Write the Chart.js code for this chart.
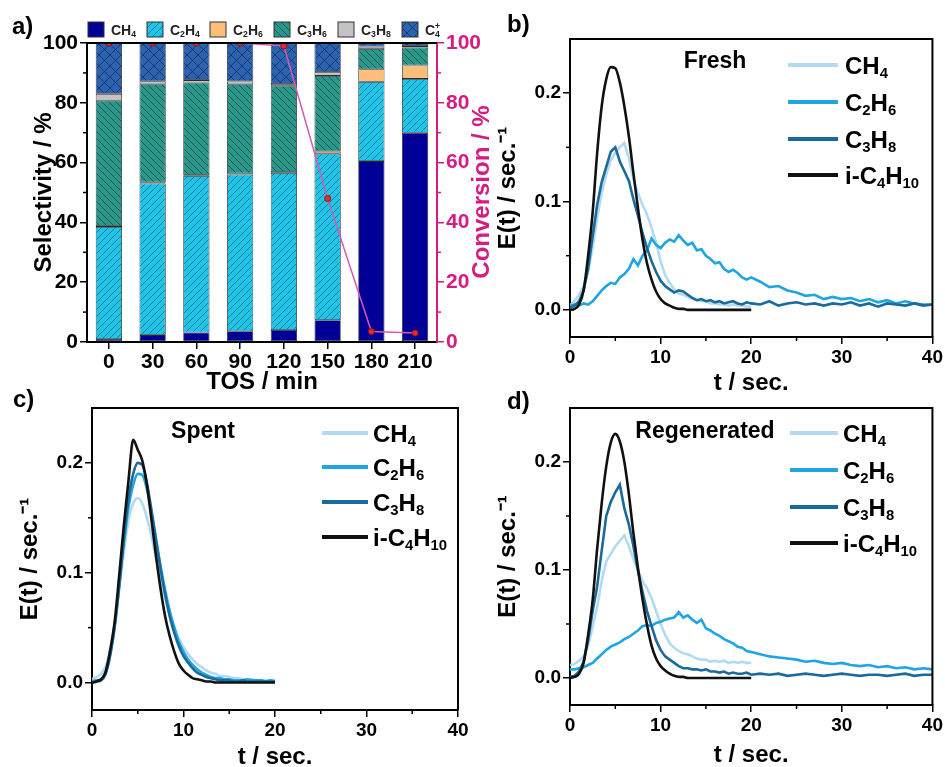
<!DOCTYPE html>
<html>
<head>
<meta charset="utf-8">
<script src="https://cdn.jsdelivr.net/npm/chart.js@4.4.1/dist/chart.umd.min.js"></script>
<style>
    body { margin: 0; background: #fff; width: 945px; height: 767px; overflow: hidden; position: relative; }
    canvas { position: absolute; }
    #cvA { left: 0; top: 0; }
    #cvB { left: 480px; top: 0; }
    #cvC { left: 0; top: 385px; }
    #cvD { left: 480px; top: 385px; }
</style>
</head>
<body>
<canvas id="cvA" width="500" height="400"></canvas>
<canvas id="cvB" width="465" height="400"></canvas>
<canvas id="cvC" width="480" height="390"></canvas>
<canvas id="cvD" width="465" height="390"></canvas>
<script>
// ---- panel a: selectivity (stacked) + conversion ----
const tosLabels = ['0', '30', '60', '90', '120', '150', '180', '210'];
const selCH4  = [1.0, 2.3, 3.2, 3.6, 4.0, 7.3, 60.5, 70.0];
const selC2H4 = [37.5, 50.7, 52.3, 52.4, 52.5, 55.7, 26.5, 18.0];
const selC2H6 = [0.3, 0.3, 0.3, 0.3, 0.3, 0.7, 4.2, 4.5];
const selC3H6 = [41.9, 32.9, 31.0, 29.9, 28.9, 25.3, 6.8, 6.0];
const selC3H8 = [2.3, 1.0, 0.8, 0.9, 0.6, 1.3, 0.8, 0.5];
const selC4   = [17.0, 12.8, 12.4, 12.9, 13.7, 9.7, 1.2, 1.0];
const conversion = [100, 100, 100, 100, 99, 48, 3.5, 3];

// ---- panels b-d: residence time distributions ----
const tShort = [0, 0.5, 1, 1.5, 2, 2.5, 3, 3.5, 4, 4.5,
    5, 5.5, 6, 6.5, 7, 7.5, 8, 8.5, 9, 9.5,
    10, 10.5, 11, 11.5, 12, 12.5, 13, 13.5, 14, 14.5,
    15, 15.5, 16, 16.5, 17, 17.5, 18, 18.5, 19, 19.5,
    20];
const tLong = tShort.concat([21, 22, 23, 24, 25, 26, 27, 28, 29, 30,
    31, 32, 33, 34, 35, 36, 37, 38, 39, 40]);

// Fresh
const freshCH4 = [0.004, 0.008, 0.014, 0.022, 0.035, 0.058, 0.085, 0.108, 0.125, 0.138,
    0.145, 0.150, 0.154, 0.140, 0.120, 0.108, 0.097, 0.088, 0.076, 0.062,
    0.045, 0.032, 0.025, 0.019, 0.015, 0.014, 0.012, 0.010, 0.009, 0.008,
    0.008, 0.006, 0.006, 0.005, 0.005, 0.004, 0.005, 0.004, 0.004, 0.003,
    0.003];
const freshC2H6 = [0.004, 0.005, 0.004, 0.006, 0.005, 0.008, 0.013, 0.018, 0.022, 0.025,
    0.024, 0.030, 0.033, 0.038, 0.047, 0.041, 0.050, 0.055, 0.066, 0.060,
    0.057, 0.062, 0.065, 0.063, 0.069, 0.064, 0.060, 0.062, 0.055, 0.056,
    0.050, 0.047, 0.043, 0.044, 0.038, 0.035, 0.037, 0.034, 0.030, 0.028,
    0.030,
    0.026, 0.021, 0.022, 0.018, 0.016, 0.013, 0.014, 0.010, 0.012, 0.010,
    0.011, 0.008, 0.010, 0.007, 0.009, 0.006, 0.008, 0.006, 0.005, 0.005];
const freshC3H8 = [0.002, 0.004, 0.008, 0.018, 0.038, 0.068, 0.097, 0.118, 0.132, 0.146,
    0.150, 0.137, 0.128, 0.119, 0.102, 0.087, 0.071, 0.057, 0.045, 0.035,
    0.027, 0.022, 0.019, 0.016, 0.018, 0.017, 0.014, 0.011, 0.009, 0.010,
    0.008, 0.009, 0.007, 0.008, 0.006, 0.007, 0.008, 0.006, 0.005, 0.007,
    0.006,
    0.005, 0.008, 0.004, 0.006, 0.007, 0.005, 0.006, 0.004, 0.006, 0.005,
    0.007, 0.004, 0.006, 0.003, 0.006, 0.005, 0.004, 0.006, 0.004, 0.005];
const freshC4H10 = [0, 0.001, 0.005, 0.018, 0.050, 0.090, 0.145, 0.188, 0.213, 0.224,
    0.223, 0.210, 0.188, 0.160, 0.126, 0.094, 0.065, 0.043, 0.028, 0.017,
    0.010, 0.006, 0.004, 0.002, 0.001, 0.001, 0, 0, 0, 0,
    0, 0, 0, 0, 0, 0, 0, 0, 0, 0,
    0];

// Spent
const spentCH4 = [0.003, 0.005, 0.008, 0.015, 0.030, 0.054, 0.087, 0.120, 0.148, 0.163,
    0.168, 0.163, 0.150, 0.133, 0.113, 0.094, 0.077, 0.062, 0.050, 0.040,
    0.032, 0.026, 0.021, 0.017, 0.014, 0.011, 0.009, 0.008, 0.006, 0.006,
    0.005, 0.004, 0.004, 0.003, 0.003, 0.003, 0.002, 0.002, 0.002, 0.002,
    0.002];
const spentC2H6 = [0.001, 0.002, 0.003, 0.010, 0.027, 0.053, 0.090, 0.128, 0.160, 0.180,
    0.190, 0.189, 0.176, 0.155, 0.130, 0.106, 0.084, 0.065, 0.050, 0.037,
    0.028, 0.021, 0.016, 0.012, 0.009, 0.007, 0.005, 0.004, 0.004, 0.003,
    0.003, 0.002, 0.002, 0.002, 0.003, 0.002, 0.002, 0.002, 0.001, 0.002,
    0.001];
const spentC3H8 = [0, 0.001, 0.002, 0.008, 0.025, 0.052, 0.090, 0.132, 0.168, 0.190,
    0.200, 0.198, 0.182, 0.157, 0.130, 0.103, 0.080, 0.060, 0.045, 0.033,
    0.024, 0.018, 0.013, 0.009, 0.007, 0.005, 0.004, 0.003, 0.002, 0.002,
    0.002, 0.001, 0.001, 0.002, 0.001, 0.001, 0.001, 0.001, 0.001, 0.001,
    0.001];
const spentC4H10 = [0, 0.001, 0.003, 0.010, 0.030, 0.057, 0.100, 0.145, 0.185, 0.221,
    0.212, 0.202, 0.180, 0.148, 0.115, 0.085, 0.060, 0.042, 0.028, 0.017,
    0.011, 0.007, 0.004, 0.003, 0.002, 0.001, 0.001, 0, 0, 0,
    0, 0, 0, 0, 0, 0, 0, 0, 0, 0,
    0];

// Regenerated
const regenCH4 = [0.012, 0.013, 0.016, 0.020, 0.030, 0.047, 0.066, 0.090, 0.108, 0.115,
    0.122, 0.127, 0.132, 0.122, 0.110, 0.100, 0.090, 0.083, 0.074, 0.062,
    0.050, 0.040, 0.032, 0.028, 0.025, 0.023, 0.022, 0.020, 0.018, 0.017,
    0.017, 0.015, 0.016, 0.015, 0.016, 0.014, 0.015, 0.014, 0.015, 0.014,
    0.014];
const regenC2H6 = [0.008, 0.008, 0.009, 0.010, 0.012, 0.014, 0.018, 0.022, 0.026, 0.029,
    0.031, 0.033, 0.036, 0.038, 0.041, 0.044, 0.048, 0.049, 0.048, 0.051,
    0.052, 0.054, 0.055, 0.056, 0.061, 0.056, 0.058, 0.054, 0.051, 0.054,
    0.046, 0.044, 0.041, 0.039, 0.036, 0.034, 0.032, 0.029, 0.028, 0.025,
    0.024,
    0.022, 0.020, 0.019, 0.018, 0.017, 0.015, 0.016, 0.014, 0.013, 0.014,
    0.012, 0.011, 0.012, 0.010, 0.011, 0.009, 0.010, 0.008, 0.009, 0.008];
const regenC3H8 = [0.001, 0.002, 0.006, 0.015, 0.035, 0.062, 0.085, 0.118, 0.150, 0.163,
    0.172, 0.179, 0.157, 0.142, 0.122, 0.099, 0.080, 0.062, 0.048, 0.035,
    0.026, 0.020, 0.017, 0.014, 0.011, 0.009, 0.009, 0.008, 0.008, 0.007,
    0.008, 0.006, 0.006, 0.005, 0.006, 0.004, 0.005, 0.004, 0.004, 0.005,
    0.003,
    0.004, 0.003, 0.004, 0.002, 0.003, 0.004, 0.003, 0.002, 0.003, 0.004,
    0.003, 0.002, 0.003, 0.003, 0.002, 0.003, 0.004, 0.002, 0.003, 0.003];
const regenC4H10 = [0, 0.001, 0.004, 0.014, 0.040, 0.072, 0.120, 0.162, 0.196, 0.218,
    0.226, 0.219, 0.200, 0.170, 0.134, 0.102, 0.073, 0.049, 0.030, 0.018,
    0.011, 0.007, 0.004, 0.002, 0.001, 0.001, 0, 0, 0, 0,
    0, 0, 0, 0, 0, 0, 0, 0, 0, 0,
    0];

const FONT = "'Liberation Sans', Arial, sans-serif";
const PINK = '#d81b80';
Chart.defaults.font.family = FONT;
Chart.defaults.font.weight = 'bold';
Chart.defaults.color = '#000';
Chart.defaults.animation = false;

// hatch fill for the bars
function hatch(bg, fg, dirs, size) {
    const c = document.createElement('canvas');
    c.width = c.height = size;
    const g = c.getContext('2d');
    g.fillStyle = bg;
    g.fillRect(0, 0, size, size);
    g.strokeStyle = fg;
    g.lineWidth = 0.9;
    g.beginPath();
    if (dirs.includes('/')) {
        g.moveTo(-1, size + 1); g.lineTo(size + 1, -1);
        g.moveTo(-2, 2); g.lineTo(2, -2);
        g.moveTo(size - 2, size + 2); g.lineTo(size + 2, size - 2);
    }
    if (dirs.includes('\\')) {
        g.moveTo(-1, -1); g.lineTo(size + 1, size + 1);
        g.moveTo(size - 2, -2); g.lineTo(size + 2, 2);
        g.moveTo(-2, size - 2); g.lineTo(2, size + 2);
    }
    g.stroke();
    return g.createPattern(c, 'repeat');
}

// text with _sub and ^sup (e.g. C_2H_6, C_4^+)
function chemRuns(str) {
    const runs = [];
    let i = 0;
    while (i < str.length) {
        const c = str[i];
        if (c === '_' || c === '^') {
            let t;
            if (str[i + 1] === '{') {
                const j = str.indexOf('}', i);
                t = str.slice(i + 2, j);
                i = j + 1;
            } else {
                t = str[i + 1];
                i += 2;
            }
            runs.push({ t, k: c === '_' ? 'sub' : 'sup' });
        } else {
            let j = i;
            while (j < str.length && str[j] !== '_' && str[j] !== '^') j++;
            runs.push({ t: str.slice(i, j), k: 'n' });
            i = j;
        }
    }
    return runs;
}

function drawChem(ctx, str, x, y, size) {
    let cx = x, subX = null;
    chemRuns(str).forEach(r => {
        const s = r.k === 'n' ? size : size * 0.62;
        ctx.font = `bold ${s}px ${FONT}`;
        const w = ctx.measureText(r.t).width;
        if (r.k === 'n') {
            ctx.fillText(r.t, cx, y);
            cx += w;
            subX = null;
        } else if (r.k === 'sub') {
            ctx.fillText(r.t, cx, y + size * 0.2);
            subX = cx;
            cx += w;
        } else {
            const sx = subX !== null ? subX : cx;
            ctx.fillText(r.t, sx, y - size * 0.42);
            cx = Math.max(cx, sx + w);
        }
    });
}

// frame, minor ticks, legends and labels
const decor = {
    id: 'decor',
    afterDraw(chart, args, opts) {
        const ctx = chart.ctx;
        const a = chart.chartArea;
        ctx.save();

        ctx.strokeStyle = '#000';
        ctx.lineWidth = 2;
        ctx.beginPath();
        ctx.moveTo(a.left, a.top);
        ctx.lineTo(a.right, a.top);
        if (opts.rightFrame) ctx.lineTo(a.right, a.bottom);
        ctx.stroke();

        (opts.minor || []).forEach(id => {
            const s = chart.scales[id];
            const v = s.ticks.map(t => t.value);
            ctx.strokeStyle = s.options.grid.color;
            ctx.lineWidth = 1.5;
            for (let i = 0; i < v.length - 1; i++) {
                const p = s.getPixelForValue((v[i] + v[i + 1]) / 2);
                ctx.beginPath();
                if (s.isHorizontal()) { ctx.moveTo(p, s.top); ctx.lineTo(p, s.top + 4); }
                else if (s.position === 'left') { ctx.moveTo(s.right, p); ctx.lineTo(s.right - 4, p); }
                else { ctx.moveTo(s.left, p); ctx.lineTo(s.left + 4, p); }
                ctx.stroke();
            }
        });

        ctx.textBaseline = 'alphabetic';
        ctx.textAlign = 'left';
        if (opts.lines) {
            const L = opts.lines;
            chart.data.datasets.forEach((ds, i) => {
                const y = L.ys[i];
                ctx.strokeStyle = ds.borderColor;
                ctx.lineWidth = 4;
                ctx.beginPath();
                ctx.moveTo(L.x0, y);
                ctx.lineTo(L.x1, y);
                ctx.stroke();
                ctx.fillStyle = '#000';
                drawChem(ctx, ds.label, L.tx, y + L.size * 0.36, L.size);
            });
        }
        if (opts.boxes) {
            const B = opts.boxes;
            chart.data.datasets.filter(ds => ds.type !== 'line').forEach((ds, i) => {
                const x = B.xs[i];
                ctx.fillStyle = ds.backgroundColor;
                ctx.fillRect(x, B.y, B.w, B.h);
                ctx.strokeStyle = '#333';
                ctx.lineWidth = 1;
                ctx.strokeRect(x, B.y, B.w, B.h);
                ctx.fillStyle = '#222';
                drawChem(ctx, ds.label, x + B.w + 7, B.y + B.h / 2 + B.size * 0.36, B.size);
            });
        }
        (opts.texts || []).forEach(t => {
            ctx.save();
            ctx.font = `bold ${t.size}px ${FONT}`;
            ctx.fillStyle = t.color || '#000';
            ctx.textAlign = t.align || 'left';
            ctx.textBaseline = 'middle';
            ctx.translate(t.x, t.y);
            if (t.rot) ctx.rotate(t.rot);
            ctx.fillText(t.text, 0, 0);
            ctx.restore();
        });
        ctx.restore();
    }
};

// ---------- a) ----------
const ctxA = document.getElementById('cvA').getContext('2d');
const patC2H4 = hatch('#1fc4e6', 'rgba(0,60,80,0.55)', '/', 7);
const patC3H6 = hatch('#2b978a', 'rgba(0,40,35,0.6)', '\\', 7);
const patC4 = hatch('#2c63ae', 'rgba(10,30,90,0.7)', '/\\', 11);

function barSet(label, data, color) {
    return {
        label, data,
        backgroundColor: color,
        borderColor: '#2a2a2a',
        borderWidth: 0.8,
        borderSkipped: false,
        barPercentage: 0.6,
        categoryPercentage: 1,
        order: 1
    };
}

new Chart(ctxA, {
    type: 'bar',
    data: {
        labels: tosLabels,
        datasets: [
            barSet('CH_4', selCH4, '#000096'),
            barSet('C_2H_4', selC2H4, patC2H4),
            barSet('C_2H_6', selC2H6, '#fcbf7b'),
            barSet('C_3H_6', selC3H6, patC3H6),
            barSet('C_3H_8', selC3H8, '#c3c3c3'),
            barSet('C_4^+', selC4, patC4),
            {
                type: 'line',
                label: 'Conversion',
                data: conversion,
                yAxisID: 'y1',
                borderColor: '#d45bb0',
                borderWidth: 1.5,
                pointRadius: 3,
                pointBackgroundColor: '#e52b2b',
                pointBorderColor: '#9b1010',
                pointBorderWidth: 1,
                order: 0
            }
        ]
    },
    options: {
        responsive: false,
        layout: { padding: { top: 43, left: 0, right: 0, bottom: 0 } },
        plugins: { legend: { display: false }, tooltip: { enabled: false },
            decor: {
                minor: ['y', 'y1'],
                boxes: { xs: [88, 147, 210, 274, 338, 402], y: 22, w: 16, h: 15, size: 14 },
                texts: [
                    { text: 'a)', x: 12, y: 27, size: 24 },
                    { text: 'Conversion / %', x: 482, y: 192, size: 24, color: PINK, align: 'center', rot: -Math.PI / 2 }
                ]
            }
        },
        scales: {
            x: {
                stacked: true,
                ticks: { font: { size: 21, weight: 'bold' }, padding: 1 },
                grid: { drawOnChartArea: false, offset: false, tickLength: 7, color: '#000', lineWidth: 1.5 },
                border: { color: '#000', width: 2 },
                title: { display: true, text: 'TOS / min', font: { size: 24, weight: 'bold' }, padding: { top: 0, bottom: 3 } },
                afterFit: s => { s.height = 58; }
            },
            y: {
                stacked: true, min: 0, max: 100,
                ticks: { stepSize: 20, font: { size: 21, weight: 'bold' }, padding: 2 },
                grid: { drawOnChartArea: false, tickLength: 7, color: '#000', lineWidth: 1.5 },
                border: { color: '#000', width: 2 },
                title: { display: true, text: 'Selectivity / %', font: { size: 24, weight: 'bold' }, padding: { top: 30, bottom: 0 } },
                afterFit: s => { s.width = 87; }
            },
            y1: {
                position: 'right', min: 0, max: 100,
                ticks: { stepSize: 20, color: PINK, font: { size: 21, weight: 'bold' }, padding: 2 },
                grid: { drawOnChartArea: false, tickLength: 7, color: PINK, lineWidth: 1.5 },
                border: { color: PINK, width: 2 },
                afterFit: s => { s.width = 63; }
            }
        }
    },
    plugins: [decor]
});

// ---------- b), c), d) ----------
function rtdSet(label, t, vals, color, order, smooth) {
    return {
        label,
        data: t.map((x, i) => ({ x, y: vals[i] })),
        borderColor: color,
        borderWidth: 2.6,
        pointRadius: 0,
        fill: false,
        tension: 0,
        cubicInterpolationMode: smooth ? 'monotone' : 'default',
        order
    };
}

function rtdChart(id, sets, lay) {
    const ctx = document.getElementById(id).getContext('2d');
    return new Chart(ctx, {
        type: 'line',
        data: { datasets: sets },
        options: {
            responsive: false,
            layout: { padding: { top: lay.top, right: lay.right, left: 0, bottom: 0 } },
            plugins: { legend: { display: false }, tooltip: { enabled: false },
                decor: { rightFrame: true, minor: ['x', 'y'], lines: lay.lines, texts: lay.texts }
            },
            scales: {
                x: {
                    type: 'linear', min: 0, max: 40,
                    ticks: { stepSize: 10, font: { size: 19, weight: 'bold' }, padding: 2, maxRotation: 0 },
                    grid: { drawOnChartArea: false, tickLength: 7, color: '#000', lineWidth: 1.5 },
                    border: { color: '#000', width: 2 },
                    title: { display: true, text: 't / sec.', font: { size: 24, weight: 'bold' }, padding: { top: 0, bottom: lay.xPad } },
                    afterFit: s => { s.height = lay.xH; }
                },
                y: {
                    min: -0.025, max: 0.25,
                    ticks: { stepSize: 0.1, includeBounds: false, callback: v => v.toFixed(1), font: { size: 19, weight: 'bold' }, padding: 2 },
                    grid: { drawOnChartArea: false, tickLength: 7, color: '#000', lineWidth: 1.5 },
                    border: { color: '#000', width: 2 },
                    title: { display: true, text: 'E(t) / sec.\u207B\u00B9', font: { size: 24, weight: 'bold' }, padding: { top: lay.yPad, bottom: 0 } },
                    afterFit: s => { s.width = lay.yW; }
                }
            }
        },
        plugins: [decor]
    });
}

const colCH4 = '#b1dbf3';
const colC2H6 = '#1ea5e2';
const colC3H8 = '#1b6a9c';
const colC4H10 = '#111111';

rtdChart('cvB', [
    rtdSet('CH_4', tShort, freshCH4, colCH4, 3, false),
    rtdSet('C_2H_6', tLong, freshC2H6, colC2H6, 2, false),
    rtdSet('C_3H_8', tLong, freshC3H8, colC3H8, 1, false),
    rtdSet('i-C_4H_{10}', tShort, freshC4H10, colC4H10, 0, true)
], {
    top: 39, right: 10, yW: 90, xH: 63, yPad: 14, xPad: 2,
    lines: { x0: 308, x1: 358, tx: 365, ys: [65, 102, 139, 175], size: 24 },
    texts: [
        { text: 'b)', x: 27, y: 25, size: 24 },
        { text: 'Fresh', x: 235, y: 62, size: 23, align: 'center' }
    ]
});

rtdChart('cvC', [
    rtdSet('CH_4', tShort, spentCH4, colCH4, 3, true),
    rtdSet('C_2H_6', tShort, spentC2H6, colC2H6, 2, true),
    rtdSet('C_3H_8', tShort, spentC3H8, colC3H8, 1, true),
    rtdSet('i-C_4H_{10}', tShort, spentC4H10, colC4H10, 0, true)
], {
    top: 23, right: 22, yW: 92, xH: 65, yPad: 16, xPad: 3,
    lines: { x0: 322, x1: 368, tx: 373, ys: [48, 82, 117, 152], size: 24 },
    texts: [
        { text: 'c)', x: 13, y: 15, size: 24 },
        { text: 'Spent', x: 203, y: 47, size: 23, align: 'center' }
    ]
});

rtdChart('cvD', [
    rtdSet('CH_4', tShort, regenCH4, colCH4, 3, false),
    rtdSet('C_2H_6', tLong, regenC2H6, colC2H6, 2, false),
    rtdSet('C_3H_8', tLong, regenC3H8, colC3H8, 1, false),
    rtdSet('i-C_4H_{10}', tShort, regenC4H10, colC4H10, 0, true)
], {
    top: 23, right: 10, yW: 90, xH: 70, yPad: 14, xPad: 5,
    lines: { x0: 310, x1: 358, tx: 363, ys: [48, 85, 122, 158], size: 24 },
    texts: [
        { text: 'd)', x: 27, y: 17, size: 24 },
        { text: 'Regenerated', x: 225, y: 47, size: 23, align: 'center' }
    ]
});
</script>
</body>
</html>
